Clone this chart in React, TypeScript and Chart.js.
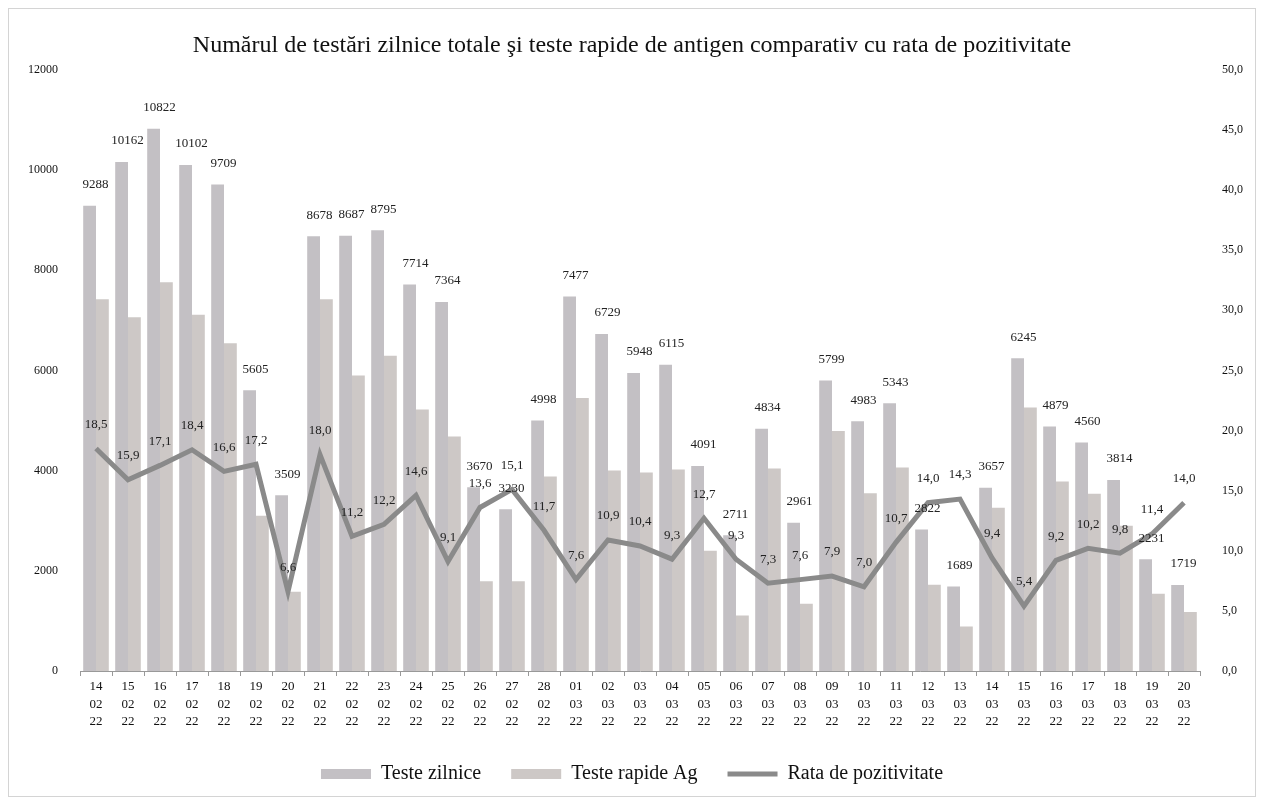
import React, { useEffect, useRef } from "react";
import { Chart, registerables } from "chart.js";

Chart.register(...registerables);

const days = ["14","15","16","17","18","19","20","21","22","23","24","25","26","27","28","01","02","03","04","05","06","07","08","09","10","11","12","13","14","15","16","17","18","19","20"];
const months = ["02","02","02","02","02","02","02","02","02","02","02","02","02","02","02","03","03","03","03","03","03","03","03","03","03","03","03","03","03","03","03","03","03","03","03"];
const years = ["22","22","22","22","22","22","22","22","22","22","22","22","22","22","22","22","22","22","22","22","22","22","22","22","22","22","22","22","22","22","22","22","22","22","22"];

const testeZilnice = [9288,10162,10822,10102,9709,5605,3509,8678,8687,8795,7714,7364,3670,3230,4998,7477,6729,5948,6115,4091,2711,4834,2961,5799,4983,5343,2822,1689,3657,6245,4879,4560,3814,2231,1719];
const testeRapide = [7420,7060,7760,7110,6540,3100,1580,7420,5900,6290,5220,4680,1790,1790,3880,5450,4000,3960,4020,2400,1110,4040,1340,4790,3550,4060,1720,890,3260,5260,3780,3540,2900,1540,1180];
const rataPozitivitate = [18.5,15.9,17.1,18.4,16.6,17.2,6.6,18.0,11.2,12.2,14.6,9.1,13.6,15.1,11.7,7.6,10.9,10.4,9.3,12.7,9.3,7.3,7.6,7.9,7.0,10.7,14.0,14.3,9.4,5.4,9.2,10.2,9.8,11.4,14.0];

const seriesNames = ["Teste zilnice", "Teste rapide Ag", "Rata de pozitivitate"];
const titleText = "Numărul de testări zilnice totale şi teste rapide de antigen comparativ cu rata de pozitivitate";

const fmtComma = (v: number) => v.toFixed(1).replace(".", ",");

const valueLabels = {
  id: "valueLabels",
  afterDatasetsDraw(chart: any) {
    const ctx = chart.ctx;
    ctx.save();
    ctx.font = '13px "Liberation Serif"';
    ctx.fillStyle = "#222";
    ctx.textAlign = "center";
    ctx.textBaseline = "middle";
    const m0 = chart.getDatasetMeta(0);
    m0.data.forEach((el: any, i: number) => {
      ctx.fillText(String(testeZilnice[i]), el.x + 6, el.y - 21);
    });
    const m2 = chart.getDatasetMeta(2);
    m2.data.forEach((el: any, i: number) => {
      ctx.fillText(fmtComma(rataPozitivitate[i]), el.x, el.y - 24);
    });
    ctx.restore();
  },
};

export default function App() {
  const ref = useRef<HTMLCanvasElement | null>(null);
  useEffect(() => {
    if (!ref.current) return;
    const labels = days.map((d, i) => [d, months[i], years[i]]);
    const chart = new Chart(ref.current, {
      type: "bar",
      data: {
        labels,
        datasets: [
          {
            type: "bar",
            label: seriesNames[0],
            data: testeZilnice,
            backgroundColor: "#c3c0c4",
            yAxisID: "y",
            order: 2,
            pointStyle: "rect",
            categoryPercentage: 0.8,
            barPercentage: 1.0,
          } as any,
          {
            type: "bar",
            label: seriesNames[1],
            data: testeRapide,
            backgroundColor: "#cdc8c6",
            yAxisID: "y",
            order: 2,
            pointStyle: "rect",
            categoryPercentage: 0.8,
            barPercentage: 1.0,
          } as any,
          {
            type: "line",
            label: seriesNames[2],
            data: rataPozitivitate,
            borderColor: "#8a8a8a",
            backgroundColor: "#8a8a8a",
            borderWidth: 5,
            pointRadius: 0,
            tension: 0,
            yAxisID: "y1",
            order: 1,
            pointStyle: "line",
          } as any,
        ],
      },
      options: {
        responsive: false,
        animation: false,
        devicePixelRatio: 1,
        layout: { padding: { left: 0, right: 0, top: 0, bottom: 2 } },
        plugins: {
          title: {
            display: true,
            text: titleText,
            color: "#111",
            font: { family: "Liberation Serif", size: 24, weight: "normal" },
            padding: { top: 22, bottom: 10 },
          },
          legend: {
            position: "bottom",
            labels: {
              usePointStyle: true,
              pointStyleWidth: 50,
              boxHeight: 10,
              color: "#111",
              font: { family: "Liberation Serif", size: 20 },
              padding: 30,
              sort: (a: any, b: any) => a.datasetIndex - b.datasetIndex,
            },
          },
          tooltip: { enabled: false },
        },
        scales: {
          x: {
            grid: { display: true, drawOnChartArea: false, offset: true, tickLength: 5, color: "#999" },
            border: { display: true, color: "#999" },
            ticks: {
              color: "#111",
              font: { family: "Liberation Serif", size: 13, lineHeight: 1.35 },
              maxRotation: 0,
              autoSkip: false,
              padding: 2,
            },
            afterFit: (s: any) => { s.height = 63; },
          },
          y: {
            position: "left",
            min: 0,
            max: 12000,
            ticks: { stepSize: 2000, color: "#111", font: { family: "Liberation Serif", size: 12 }, padding: 14, callback: (v: any) => String(v) },
            grid: { display: false },
            border: { display: false },
            afterFit: (s: any) => { s.width = 71; },
          },
          y1: {
            position: "right",
            min: 0,
            max: 50,
            ticks: { stepSize: 5, color: "#111", font: { family: "Liberation Serif", size: 12 }, padding: 14, callback: (v: any) => fmtComma(Number(v)) },
            grid: { display: false },
            border: { display: false },
            afterFit: (s: any) => { s.width = 55; },
          },
        },
      },
      plugins: [valueLabels],
    });
    return () => chart.destroy();
  }, []);
  return (
    <div style={{ width: 1248, height: 789, boxSizing: "border-box", border: "1px solid #d4d4d4", background: "#fff" }}>
      <canvas ref={ref} width={1246} height={787} style={{ display: "block" }} />
    </div>
  );
}
